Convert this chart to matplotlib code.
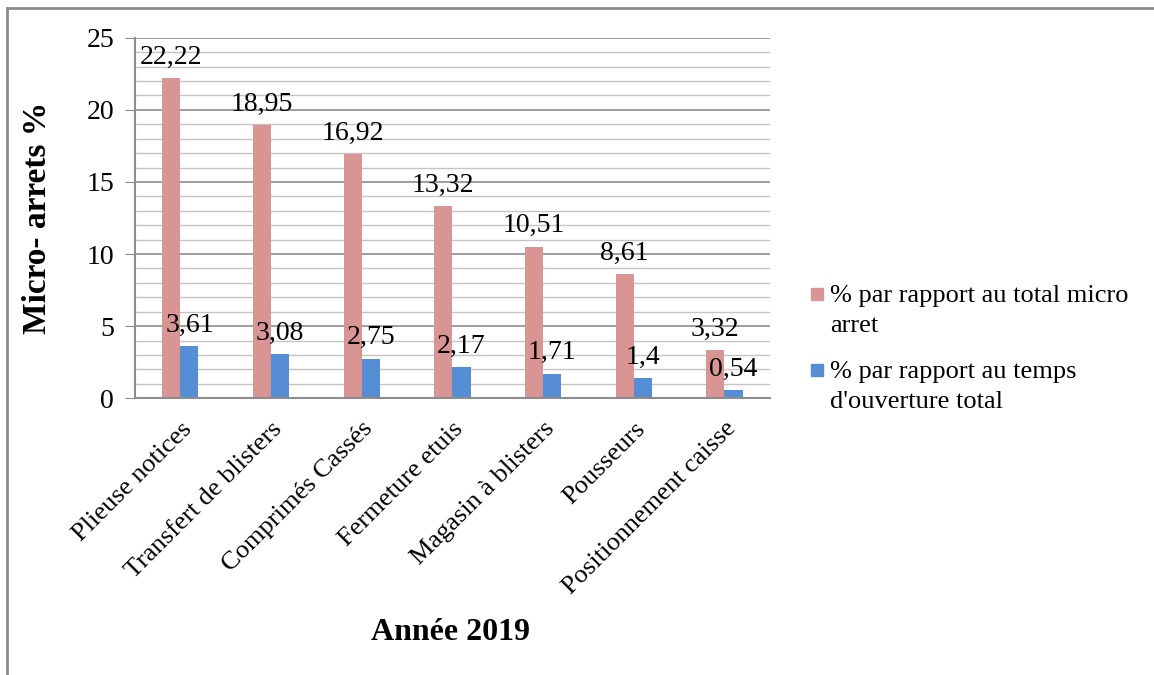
import matplotlib
matplotlib.use("Agg")
import matplotlib.pyplot as plt
from matplotlib.patches import Rectangle
from matplotlib.ticker import MultipleLocator
import numpy as np

plt.rcParams['font.family'] = ['Liberation Serif', 'DejaVu Serif']

categories = ["Plieuse notices", "Transfert de blisters", "Comprimés Cassés",
              "Fermeture etuis", "Magasin à blisters", "Pousseurs",
              "Positionnement caisse"]
pct_micro = [22.22, 18.95, 16.92, 13.32, 10.51, 8.61, 3.32]
pct_temps = [3.61, 3.08, 2.75, 2.17, 1.71, 1.4, 0.54]
series_names = [["% par rapport au total micro", "arret"],
                ["% par rapport au temps", "d'ouverture total"]]
colors = ["#D99594", "#558ED5"]

W, H = 1154, 675
fig = plt.figure(figsize=(W / 100, H / 100), dpi=100)
# outer frame (only top and left edges visible in the reference)
fig.patches.append(Rectangle((0.006, -0.1), 1.2, 1.088, transform=fig.transFigure,
                             fill=False, edgecolor="#8C8C8C", linewidth=2))

ax = fig.add_axes([0.117, 0.410, 0.55, 0.534])
x = np.arange(len(categories))
w = 0.2
b1 = ax.bar(x - w / 2, pct_micro, w, color=colors[0])
b2 = ax.bar(x + w / 2, pct_temps, w, color=colors[1])

for bars, vals in ((b1, pct_micro), (b2, pct_temps)):
    for rect, v in zip(bars, vals):
        ax.annotate(str(v).replace('.', ','),
                    (rect.get_x() + rect.get_width() / 2, rect.get_height()),
                    xytext=(0, 6), textcoords="offset points",
                    ha="center", va="bottom", fontsize=20)

ax.set_xlim(-0.5, len(categories) - 0.5)
ax.set_ylim(0, 25)
ax.yaxis.set_major_locator(MultipleLocator(5))
ax.yaxis.set_minor_locator(MultipleLocator(1))
ax.grid(which="major", axis="y", color="#8E8E8E", linewidth=1.2)
ax.grid(which="minor", axis="y", color="#C4C4C4", linewidth=1.0)
ax.set_axisbelow(True)

for s in ("top", "right"):
    ax.spines[s].set_visible(False)
for s in ("left", "bottom"):
    ax.spines[s].set_color("#8C8C8C")
    ax.spines[s].set_linewidth(1.5)

ax.tick_params(axis="y", which="major", length=7, color="#8C8C8C", labelsize=20, pad=8)
ax.tick_params(axis="y", which="minor", length=0)
ax.tick_params(axis="x", length=0, pad=14)
ax.set_xticks(x)
ax.set_xticklabels(categories, rotation=45, ha="right", rotation_mode="anchor",
                   fontsize=19)

ax.set_ylabel("Micro- arrets %", fontsize=24, fontweight="bold")
ax.yaxis.set_label_coords(-0.13, 0.5)
fig.text(0.39, 0.063, "Année 2019", ha="center", va="center",
         fontsize=23, fontweight="bold")

# legend drawn by hand: square handle aligned with the first text line
leg_top = [288, 364]   # pixel row of each handle's top edge
for lines, col, top in zip(series_names, colors, leg_top):
    fig.patches.append(Rectangle((811 / W, 1 - (top + 12) / H), 12 / W, 12 / H,
                                 transform=fig.transFigure, color=col))
    for k, line in enumerate(lines):
        fig.text(830 / W, 1 - (top + 14 + 30 * k) / H, line, fontsize=19,
                 ha="left", va="baseline")

fig.savefig("out.png", dpi=100)
